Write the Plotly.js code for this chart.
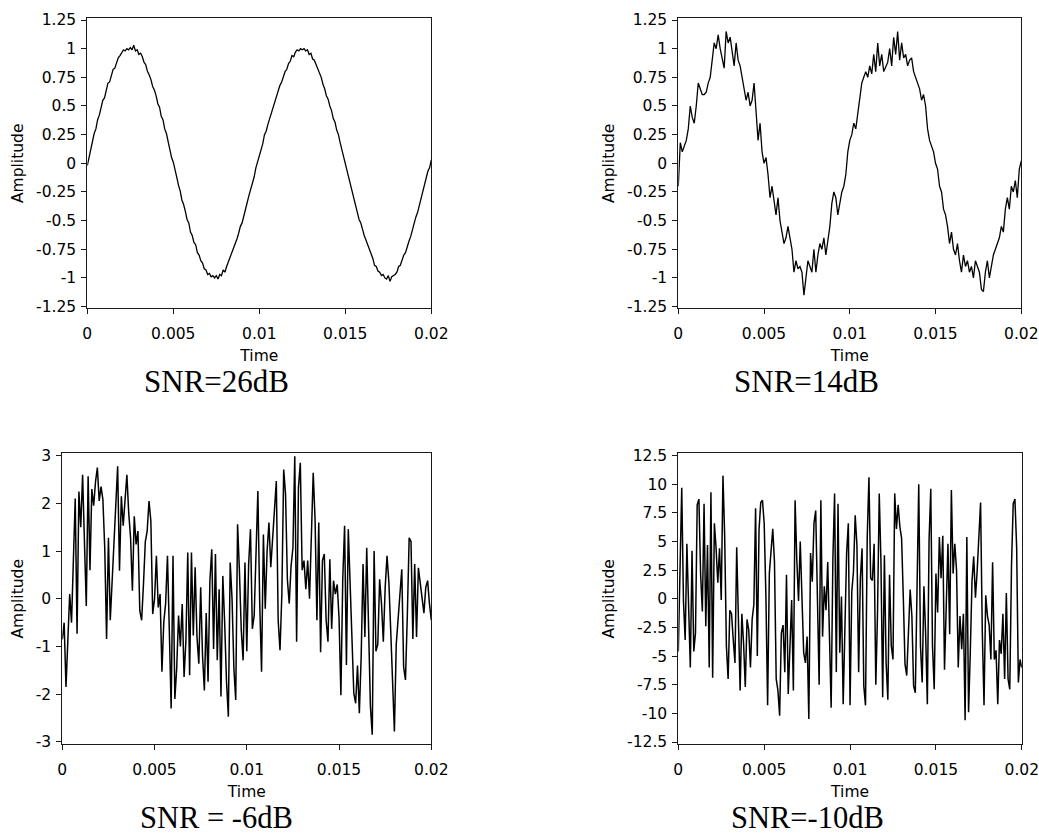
<!DOCTYPE html>
<html>
<head>
<meta charset="utf-8">
<script src="https://cdn.plot.ly/plotly-3.0.1.min.js"></script>
<style>
html,body{margin:0;padding:0;background:#ffffff;}
#chart{width:1039px;height:836px;}
</style>
</head>
<body>
<div id="chart"></div>
<script>
// ---------- data ----------
const timeStart = 0;
const timeEnd = 0.02;

const amplitudeSNR26 = [
 -0.02, 0.05, 0.13, 0.17, 0.26, 0.30, 0.38, 0.42, 0.50, 0.55,
 0.57, 0.65, 0.70, 0.71, 0.77, 0.82, 0.83, 0.88, 0.92, 0.94,
 0.97, 0.99, 0.98, 1.00, 0.99, 1.01, 0.99, 1.03, 0.98, 0.99,
 0.95, 0.96, 0.93, 0.88, 0.86, 0.80, 0.77, 0.73, 0.67, 0.64,
 0.59, 0.52, 0.49, 0.41, 0.38, 0.30, 0.26, 0.18, 0.13, 0.05,
 0.01, -0.07, -0.12, -0.19, -0.24, -0.32, -0.36, -0.42, -0.49, -0.52,
 -0.60, -0.63, -0.69, -0.71, -0.78, -0.80, -0.85, -0.87, -0.92, -0.93,
 -0.97, -0.96, -0.99, -0.98, -1.00, -0.98, -1.01, -0.97, -0.98, -0.93,
 -0.95, -0.90, -0.86, -0.82, -0.79, -0.75, -0.71, -0.66, -0.61, -0.55,
 -0.52, -0.45, -0.40, -0.34, -0.28, -0.23, -0.16, -0.12, -0.04, 0.01,
 0.06, 0.13, 0.17, 0.25, 0.28, 0.34, 0.39, 0.44, 0.47, 0.54,
 0.58, 0.62, 0.68, 0.71, 0.75, 0.80, 0.82, 0.87, 0.89, 0.94,
 0.93, 0.97, 0.99, 0.98, 1.00, 0.99, 1.00, 0.98, 0.99, 0.95,
 0.96, 0.91, 0.90, 0.86, 0.82, 0.79, 0.75, 0.69, 0.65, 0.59,
 0.56, 0.50, 0.46, 0.39, 0.36, 0.29, 0.25, 0.18, 0.12, 0.07,
 -0.01, -0.05, -0.13, -0.18, -0.24, -0.31, -0.36, -0.41, -0.49, -0.52,
 -0.59, -0.63, -0.67, -0.71, -0.76, -0.79, -0.83, -0.89, -0.90, -0.94,
 -0.95, -0.98, -0.97, -1.00, -1.01, -0.98, -1.03, -0.99, -0.98, -0.97,
 -0.95, -0.90, -0.89, -0.84, -0.80, -0.78, -0.72, -0.68, -0.64, -0.58,
 -0.54, -0.47, -0.43, -0.37, -0.31, -0.25, -0.19, -0.14, -0.07, -0.04,
 0.03
];

const amplitudeSNR14 = [
 -0.2, 0.18, 0.1, 0.15, 0.2, 0.3, 0.5, 0.4, 0.35, 0.5,
 0.7, 0.65, 0.6, 0.6, 0.62, 0.7, 0.75, 0.9, 1.05, 1.0,
 1.12, 1.0, 0.9, 0.83, 1.15, 1.05, 1.1, 0.95, 0.85, 1.05,
 0.9, 0.85, 0.75, 0.65, 0.55, 0.62, 0.5, 0.55, 0.7, 0.45,
 0.2, 0.35, 0.1, 0.0, 0.05, -0.1, -0.3, -0.2, -0.35, -0.45,
 -0.3, -0.5, -0.6, -0.7, -0.65, -0.55, -0.65, -0.75, -0.95, -0.85,
 -0.92, -0.9, -0.95, -1.15, -1.0, -0.85, -0.9, -0.95, -0.75, -0.95,
 -0.8, -0.7, -0.75, -0.65, -0.8, -0.68, -0.55, -0.35, -0.25, -0.3,
 -0.45, -0.35, -0.25, -0.2, -0.1, 0.1, 0.2, 0.25, 0.35, 0.3,
 0.45, 0.55, 0.7, 0.75, 0.8, 0.75, 0.85, 0.78, 0.95, 0.8,
 1.05, 0.85, 0.95, 0.8, 0.85, 0.88, 1.0, 0.85, 1.1, 0.95,
 1.15, 0.9, 1.05, 0.92, 0.95, 0.85, 0.9, 0.92, 0.8, 0.75,
 0.7, 0.65, 0.55, 0.6, 0.5, 0.3, 0.2, 0.15, 0.1, 0.0,
 -0.05, -0.2, -0.25, -0.4, -0.45, -0.55, -0.7, -0.6, -0.75, -0.8,
 -0.7, -0.85, -0.95, -0.8, -0.9, -0.85, -0.95, -0.9, -1.0, -0.85,
 -0.9, -0.95, -1.1, -1.12, -0.95, -0.85, -1.0, -0.9, -0.8, -0.75,
 -0.7, -0.65, -0.55, -0.6, -0.4, -0.3, -0.4, -0.2, -0.25, -0.15,
 -0.3, -0.05, 0.02
];

const amplitudeSNRm6 = [
 -0.85, -0.5, -1.85, -0.87, 0.1, -0.5, 0.9, 2.1, -0.73, 2.25,
 1.5, 2.6, 1.2, -0.15, 2.57, 0.6, 2.3, 1.95, 2.45, 2.75,
 2.05, 2.35, 2.08, 1.07, -0.84, 1.28, -0.45, 0.34, 1.14, 2.15,
 2.78, 0.59, 2.15, 1.53, 2.19, 2.6, 1.8, 1.28, 0.17, 1.73,
 1.14, 1.42, -0.25, -0.45, 0.31, 1.2, 1.42, 2.05, 1.63, -0.32,
 0.0, 0.9, -0.18, 0.1, -1.53, -0.49, -0.1, 0.9, -0.66, -2.3,
 0.9, -2.1, -1.46, -0.35, -1.0, -0.11, -1.64, -0.87, 0.97, -1.6,
 0.97, -0.77, 0.66, -0.8, -1.36, 0.24, -1.19, -1.92, -0.3, -1.74,
 0.38, 1.04, -1.05, 0.94, -1.29, 0.2, -2.05, 0.48, -0.5, -1.74,
 -2.47, 0.76, 0.0, -1.46, -2.12, 1.56, 0.59, -0.66, -1.29, 0.76,
 -1.1, 0.73, 1.46, -0.63, -0.35, 1.0, 2.26, -0.1, -1.53, 1.35,
 -0.21, 1.0, 1.6, 0.66, 1.39, 1.87, 2.47, -0.45, -1.08, 0.1,
 2.71, 2.19, 0.4, -0.1, 0.69, 1.07, 2.99, -0.9, 2.33, 2.85,
 0.6, 0.8, 0.2, 0.8, 0.0, 1.14, 2.64, 1.66, -0.45, 1.6,
 -1.12, 0.8, 0.94, -0.45, -0.9, 0.83, -0.63, 0.38, 0.1, 0.3,
 -0.4, -2.02, 0.4, 1.53, -1.39, 1.46, 0.3, -0.7, -1.98, -2.19,
 -1.4, -2.4, -1.2, 0.73, -0.8, 1.07, -1.0, -2.26, -2.85, 1.0,
 -1.1, -0.95, 0.41, -0.1, -0.9, 0.24, 0.9, 0.35, -0.66, -1.92,
 -2.78, -0.95, -0.45, 0.0, 0.62, -1.43, -1.7, -0.35, 1.28, 1.2,
 -0.84, 0.73, -0.8, 0.65, 0.3, 0.0, -0.3, 0.24, 0.38, -0.1,
 -0.45
];

const amplitudeSNRm10 = [
 -4.6, 2.5, 9.7, -0.2, -3.6, 4.8, -1.8, -6.0, 4.2, -4.6,
 -3.0, 8.2, 8.7, 2.1, -1.1, 8.3, -2.4, 4.7, -6.0, 9.3,
 -6.9, 6.6, 4.4, 1.4, 4.4, -0.1, 10.75, 5.5, -4.1, -7.0,
 -1.0, -1.3, -3.6, -5.6, 4.5, -0.7, -8.0, -1.3, -3.9, -7.7,
 -1.8, -2.7, -6.0, -1.8, -0.5, 7.9, -5.0, 6.0, 8.4, 8.6,
 6.6, 0.3, -9.3, 2.2, 4.5, 6.1, 3.2, -7.0, -8.0, -10.2,
 -3.0, -2.3, -6.4, 2.1, -8.3, -4.6, -0.1, -8.0, 8.6, 3.4,
 -0.2, 5.0, 0.6, -4.7, -5.6, -3.3, -10.5, 4.0, 1.5, 6.6,
 7.7, -0.7, -7.5, 8.6, -3.3, 1.1, -1.0, 3.2, -2.4, -9.5,
 3.5, 9.2, -6.4, 8.3, -4.7, 0.2, -9.2, -3.6, 4.0, 6.6,
 -9.3, 0.6, 2.4, 7.3, 4.7, -6.4, 1.8, 4.4, -7.6, -9.3,
 5.4, 10.6, 1.8, 1.6, 4.8, -7.5, -1.2, 9.2, 3.1, -8.6,
 3.8, -5.6, -8.8, 2.1, -4.1, -5.3, 9.2, 6.1, 8.2, 6.3,
 5.3, 0.2, -5.7, -6.7, -2.5, 0.8, -1.5, -7.6, -8.2, 0.8,
 10.0, -4.1, -7.3, 1.1, -3.0, -9.2, 5.1, 9.6, -4.1, -7.9,
 2.2, -1.2, 5.4, 1.8, 5.5, -6.2, 0.8, 4.8, -3.1, 9.5,
 2.2, 4.8, 2.5, -6.0, -1.5, -4.4, -1.3, -10.6, 5.4, -9.9,
 -4.7, 1.5, 3.7, 0.1, 2.4, 5.1, 8.4, -2.9, -9.3, 0.3,
 -1.5, -2.3, -5.3, 3.2, -5.3, -4.5, -9.2, -3.6, -4.8, -1.3,
 -7.0, 0.5, -7.0, -7.9, 2.9, 8.3, 8.7, 4.5, -7.3, -5.3,
 -6.0
];

const timeTickValues = [0, 0.005, 0.01, 0.015, 0.02];
const timeTickLabels = ["0", "0.005", "0.01", "0.015", "0.02"];
const ampTickValuesUnit = [1.25, 1, 0.75, 0.5, 0.25, 0, -0.25, -0.5, -0.75, -1, -1.25];
const ampTickLabelsUnit = ["1.25", "1", "0.75", "0.5", "0.25", "0", "-0.25", "-0.5", "-0.75", "-1", "-1.25"];
const ampTickValuesM6 = [3, 2, 1, 0, -1, -2, -3];
const ampTickLabelsM6 = ["3", "2", "1", "0", "-1", "-2", "-3"];
const ampTickValuesM10 = [12.5, 10, 7.5, 5, 2.5, 0, -2.5, -5, -7.5, -10, -12.5];
const ampTickLabelsM10 = ["12.5", "10", "7.5", "5", "2.5", "0", "-2.5", "-5", "-7.5", "-10", "-12.5"];
const panelCaptions = ["SNR=26dB", "SNR=14dB", "SNR = -6dB", "SNR=-10dB"];
const xTitle = "Time";
const yTitle = "Amplitude";

// ---------- build ----------
function sampleTimes(n) {
  const out = [];
  for (let i = 0; i < n; i++) out.push(timeStart + (timeEnd - timeStart) * i / (n - 1));
  return out;
}

const W = 1039, H = 836;
function dx(a, b) { return [a / W, b / W]; }
function dy(top, bottom) { return [1 - bottom / H, 1 - top / H]; }

const series = [amplitudeSNR26, amplitudeSNR14, amplitudeSNRm6, amplitudeSNRm10];
const traces = series.map((v, k) => ({
  type: 'scatter', mode: 'lines',
  x: sampleTimes(v.length), y: v,
  xaxis: k === 0 ? 'x' : 'x' + (k + 1),
  yaxis: k === 0 ? 'y' : 'y' + (k + 1),
  line: {color: '#000000', width: k < 2 ? 1.3 : 1.5},
  hoverinfo: 'skip', showlegend: false
}));

const tickFont = {family: 'DejaVu Sans, Verdana, sans-serif', size: 15.5, color: '#000000'};
function axisBase(extra) {
  return Object.assign({
    showline: true, mirror: true, linecolor: '#1a1a1a', linewidth: 1,
    ticks: 'outside', ticklen: 5, tickwidth: 1, tickcolor: '#1a1a1a',
    showgrid: false, zeroline: false, tickmode: 'array',
    tickfont: tickFont, automargin: false, fixedrange: true,
    ticklabeloverflow: 'allow'
  }, extra);
}
function xAxis(domain, anchor) {
  return axisBase({
    domain: domain, anchor: anchor, range: [timeStart, timeEnd],
    tickvals: timeTickValues, ticktext: timeTickLabels,
    ticklabelstandoff: 6,
    title: {text: xTitle, font: tickFont, standoff: 8}
  });
}
function yAxis(domain, anchor, range, vals, labels) {
  return axisBase({
    domain: domain, anchor: anchor, range: range,
    tickvals: vals, ticktext: labels,
    ticklabelstandoff: 2,
    title: {text: yTitle, font: tickFont, standoff: 8}
  });
}

const topRow = dy(18.3, 308.3);
const botRow = dy(453.3, 744.3);

const layout = {
  width: W, height: H,
  margin: {l: 0, r: 0, t: 0, b: 0, pad: 0},
  paper_bgcolor: '#ffffff', plot_bgcolor: '#ffffff',
  showlegend: false,
  xaxis:  xAxis(dx(87.3, 431.3), 'y'),
  yaxis:  yAxis(topRow, 'x', [-1.265, 1.265], ampTickValuesUnit, ampTickLabelsUnit),
  xaxis2: xAxis(dx(678.3, 1021.3), 'y2'),
  yaxis2: yAxis(topRow, 'x2', [-1.265, 1.265], ampTickValuesUnit, ampTickLabelsUnit),
  xaxis3: xAxis(dx(62.3, 431.3), 'y3'),
  yaxis3: yAxis(botRow, 'x3', [-3.05, 3.05], ampTickValuesM6, ampTickLabelsM6),
  xaxis4: xAxis(dx(678.3, 1021.8), 'y4'),
  yaxis4: yAxis(botRow, 'x4', [-12.7, 12.7], ampTickValuesM10, ampTickLabelsM10),
  annotations: [
    {x: 216 / W, y: 1 - 381 / H},
    {x: 806.5 / W, y: 1 - 381 / H},
    {x: 216.5 / W, y: 1 - 818 / H},
    {x: 807 / W, y: 1 - 818 / H}
  ].map((p, k) => ({
    xref: 'paper', yref: 'paper', x: p.x, y: p.y,
    xanchor: 'center', yanchor: 'middle', showarrow: false,
    text: panelCaptions[k], borderpad: 0,
    font: {family: 'Liberation Serif, Times New Roman, serif', size: k < 2 ? 31 : 30.5, color: '#000000'}
  }))
};

Plotly.newPlot('chart', traces, layout, {displayModeBar: false, staticPlot: true, responsive: false});
</script>
</body>
</html>
